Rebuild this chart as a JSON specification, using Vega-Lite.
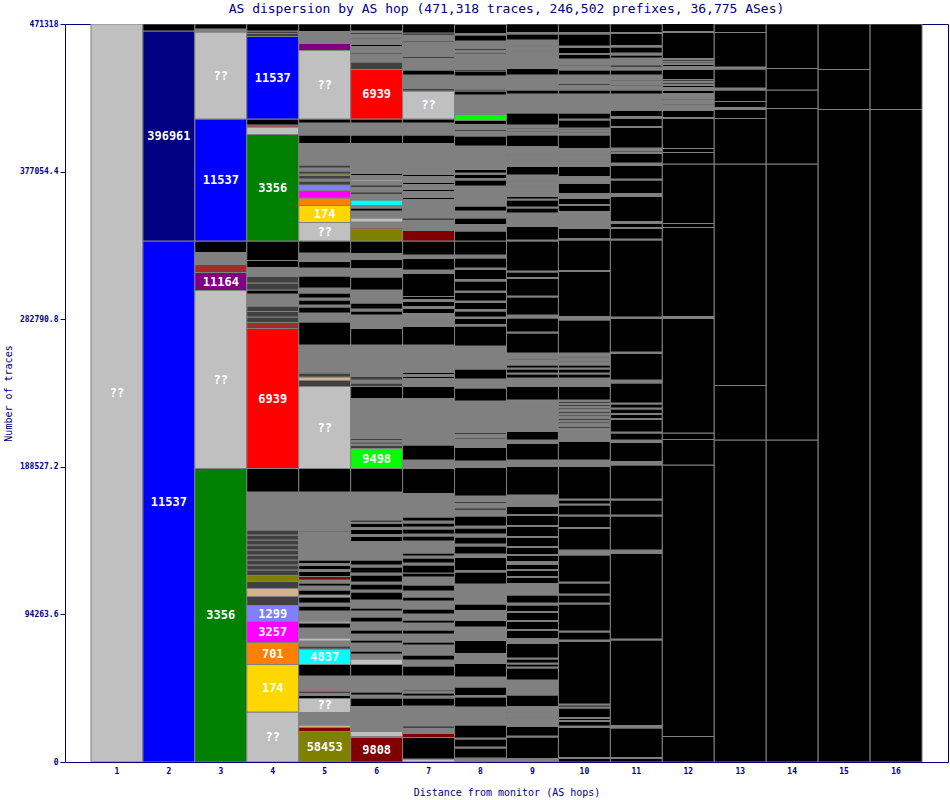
{
  "$schema": "https://vega.github.io/schema/vega-lite/v6.json",
  "width": 883,
  "height": 738,
  "autosize": {"type": "none"},
  "padding": {"left": 65, "top": 24, "right": 2, "bottom": 38},
  "background": "white",
  "config": {"view": {"stroke": "#000080", "strokeWidth": 1}},
  "title": {
    "text": "AS dispersion by AS hop (471,318 traces, 246,502 prefixes, 36,775 ASes)",
    "font": "DejaVu Sans Mono",
    "fontSize": 13,
    "fontWeight": "normal",
    "color": "#000080",
    "anchor": "middle",
    "offset": 4
  },
  "data": {"values": [
    {"h":1,"a":"??","n":471318},

    {"h":2,"a":"11537","n":332731},{"h":2,"a":"396961","n":134114},{"h":2,"a":"rest","n":4473},

    {"h":3,"a":"3356","n":187441},{"h":3,"a":"??","n":113678},{"h":3,"a":"11164","n":11496},{"h":3,"a":"brown","n":5109},{"h":3,"a":"many","n":7664},{"h":3,"a":"rest","n":7344},{"h":3,"a":"11537","n":77914},{"h":3,"a":"??","n":55562},{"h":3,"a":"many","n":1916},{"h":3,"a":"rest","n":3193},

    {"h":4,"a":"??","n":31932},{"h":4,"a":"174","n":30335},{"h":4,"a":"701","n":14050},{"h":4,"a":"3257","n":13411},{"h":4,"a":"1299","n":10218},{"h":4,"a":"dark","n":5748},{"h":4,"a":"tan","n":5109},{"h":4,"a":"dark","n":4470},{"h":4,"a":"58453","n":3832},
    {"h":4,"a":"dark","n":3513},{"h":4,"a":"dark","n":3193},{"h":4,"a":"dark","n":3193},{"h":4,"a":"dark","n":3193},{"h":4,"a":"dark","n":3193},{"h":4,"a":"dark","n":3193},{"h":4,"a":"dark","n":3193},{"h":4,"a":"dark","n":3193},{"h":4,"a":"dark","n":3193},
    {"h":4,"a":"many","n":24268},{"h":4,"a":"rest","n":15008},{"h":4,"a":"6939","n":89410},{"h":4,"a":"brown","n":3832},{"h":4,"a":"dark","n":3513},{"h":4,"a":"dark","n":3513},{"h":4,"a":"dark","n":3513},{"h":4,"a":"many","n":7664},{"h":4,"a":"rest","n":2555},{"h":4,"a":"dark","n":4470},{"h":4,"a":"dark","n":4151},{"h":4,"a":"many","n":5748},{"h":4,"a":"rest","n":4470},{"h":4,"a":"rest","n":12453},
    {"h":4,"a":"3356","n":68015},{"h":4,"a":"??","n":4790},{"h":4,"a":"brown","n":1277},{"h":4,"a":"rest","n":3832},{"h":4,"a":"11537","n":52688},{"h":4,"a":"dark","n":1916},{"h":4,"a":"dark","n":1597},{"h":4,"a":"rest","n":4470},

    {"h":5,"a":"58453","n":19478},{"h":5,"a":"9808","n":2555},{"h":5,"a":"tan","n":1597},{"h":5,"a":"many","n":7983},{"h":5,"a":"??","n":8941},{"h":5,"a":"rest","n":1916},{"h":5,"a":"many","n":1277},{"h":5,"a":"dark","n":1597},{"h":5,"a":"3257","n":639},{"h":5,"a":"many","n":8941},{"h":5,"a":"rest","n":7344},{"h":5,"a":"4837","n":9899},{"h":5,"a":"dark","n":1916},
    {"h":5,"a":"many","n":3193},{"h":5,"a":"??","n":1916},{"h":5,"a":"many","n":6386},{"h":5,"a":"rest","n":3193},{"h":5,"a":"??","n":1277},{"h":5,"a":"many","n":6386},{"h":5,"a":"rest","n":3193},{"h":5,"a":"many","n":1916},{"h":5,"a":"rest","n":3832},{"h":5,"a":"??","n":1277},{"h":5,"a":"rest","n":3193},{"h":5,"a":"many","n":2555},{"h":5,"a":"rest","n":1916},{"h":5,"a":"many","n":1916},
    {"h":5,"a":"9808","n":2235},{"h":5,"a":"rest","n":3193},{"h":5,"a":"many","n":1277},{"h":5,"a":"rest","n":2555},{"h":5,"a":"many","n":1277},{"h":5,"a":"rest","n":2235},{"h":5,"a":"many","n":17882},{"h":5,"a":"rest","n":639},{"h":5,"a":"many","n":24907},{"h":5,"a":"rest","n":15008},
    {"h":5,"a":"??","n":52368},{"h":5,"a":"dark","n":3832},{"h":5,"a":"tan","n":2235},{"h":5,"a":"dark","n":2555},{"h":5,"a":"3356","n":639},{"h":5,"a":"many","n":17243},{"h":5,"a":"rest","n":14689},{"h":5,"a":"many","n":5748},{"h":5,"a":"rest","n":3832},{"h":5,"a":"many","n":1277},{"h":5,"a":"rest","n":3193},{"h":5,"a":"many","n":1277},{"h":5,"a":"rest","n":3193},{"h":5,"a":"many","n":3193},{"h":5,"a":"rest","n":7664},{"h":5,"a":"many","n":5109},{"h":5,"a":"rest","n":4151},{"h":5,"a":"many","n":5428},{"h":5,"a":"rest","n":7664},
    {"h":5,"a":"??","n":11815},{"h":5,"a":"174","n":10857},{"h":5,"a":"701","n":4790},{"h":5,"a":"3257","n":4790},{"h":5,"a":"1299","n":3513},{"h":5,"a":"dark","n":2555},{"h":5,"a":"many","n":1277},{"h":5,"a":"dark","n":2235},{"h":5,"a":"58453","n":958},{"h":5,"a":"dark","n":1916},{"h":5,"a":"many","n":1916},{"h":5,"a":"dark","n":1916},{"h":5,"a":"many","n":13731},{"h":5,"a":"rest","n":5428},{"h":5,"a":"many","n":7664},{"h":5,"a":"rest","n":2555},{"h":5,"a":"??","n":43747},{"h":5,"a":"11164","n":4470},{"h":5,"a":"many","n":7664},{"h":5,"a":"rest","n":4790},

    {"h":6,"a":"9808","n":15647},{"h":6,"a":"many","n":639},{"h":6,"a":"??","n":3193},{"h":6,"a":"many","n":15966},{"h":6,"a":"rest","n":5428},{"h":6,"a":"many","n":1916},{"h":6,"a":"rest","n":1916},{"h":6,"a":"many","n":1277},{"h":6,"a":"many","n":8941},{"h":6,"a":"rest","n":7344},{"h":6,"a":"??","n":3513},
    {"h":6,"a":"many","n":3193},{"h":6,"a":"rest","n":1916},{"h":6,"a":"many","n":5109},{"h":6,"a":"rest","n":1916},{"h":6,"a":"many","n":3832},{"h":6,"a":"rest","n":2555},{"h":6,"a":"many","n":5109},{"h":6,"a":"rest","n":3193},{"h":6,"a":"many","n":3832},{"h":6,"a":"rest","n":1916},{"h":6,"a":"many","n":5109},
    {"h":6,"a":"rest","n":5109},{"h":6,"a":"many","n":1277},{"h":6,"a":"rest","n":3832},{"h":6,"a":"many","n":1277},{"h":6,"a":"rest","n":4470},{"h":6,"a":"many","n":1277},{"h":6,"a":"rest","n":3832},{"h":6,"a":"many","n":1277},{"h":6,"a":"rest","n":3193},
    {"h":6,"a":"many","n":11815},{"h":6,"a":"rest","n":3193},{"h":6,"a":"many","n":1277},{"h":6,"a":"rest","n":3193},{"h":6,"a":"many","n":1277},{"h":6,"a":"rest","n":2555},{"h":6,"a":"many","n":958},{"h":6,"a":"rest","n":1277},{"h":6,"a":"many","n":17882},{"h":6,"a":"rest","n":15008},
    {"h":6,"a":"9498","n":12773},{"h":6,"a":"dark","n":1916},{"h":6,"a":"many","n":958},{"h":6,"a":"dark","n":1277},{"h":6,"a":"many","n":958},{"h":6,"a":"dark","n":1277},{"h":6,"a":"many","n":25546},{"h":6,"a":"rest","n":7664},{"h":6,"a":"dark","n":2235},{"h":6,"a":"many","n":1916},{"h":6,"a":"dark","n":2235},{"h":6,"a":"many","n":20117},{"h":6,"a":"rest","n":10538},{"h":6,"a":"many","n":8622},{"h":6,"a":"rest","n":2555},{"h":6,"a":"many","n":1277},{"h":6,"a":"rest","n":3832},{"h":6,"a":"many","n":8302},{"h":6,"a":"rest","n":8302},{"h":6,"a":"many","n":5428},{"h":6,"a":"rest","n":5748},{"h":6,"a":"many","n":3832},{"h":6,"a":"rest","n":7983},
    {"h":6,"a":"58453","n":7344},{"h":6,"a":"9808","n":958},{"h":6,"a":"many","n":3832},{"h":6,"a":"??","n":2555},{"h":6,"a":"many","n":4470},{"h":6,"a":"rest","n":1916},{"h":6,"a":"many","n":1597},{"h":6,"a":"4837","n":3513},
    {"h":6,"a":"many","n":3832},{"h":6,"a":"rest","n":1277},{"h":6,"a":"many","n":3193},{"h":6,"a":"rest","n":1277},{"h":6,"a":"many","n":2555},{"h":6,"a":"??","n":958},{"h":6,"a":"many","n":2555},{"h":6,"a":"rest","n":1277},{"h":6,"a":"many","n":2235},
    {"h":6,"a":"many","n":16924},{"h":6,"a":"rest","n":5428},{"h":6,"a":"many","n":7664},{"h":6,"a":"rest","n":2555},{"h":6,"a":"6939","n":31613},{"h":6,"a":"dark","n":4790},
    {"h":6,"a":"many","n":5109},{"h":6,"a":"dark","n":958},{"h":6,"a":"many","n":3832},{"h":6,"a":"rest","n":1277},{"h":6,"a":"many","n":3193},{"h":6,"a":"dark","n":958},{"h":6,"a":"many","n":2555},{"h":6,"a":"rest","n":958},{"h":6,"a":"many","n":958},{"h":6,"a":"rest","n":4470},

    {"h":7,"a":"??","n":1916},{"h":7,"a":"rest","n":13731},{"h":7,"a":"9808","n":2555},{"h":7,"a":"many","n":3513},{"h":7,"a":"rest","n":1277},{"h":7,"a":"many","n":12773},
    {"h":7,"a":"rest","n":5109},{"h":7,"a":"many","n":1277},{"h":7,"a":"rest","n":1916},{"h":7,"a":"many","n":958},{"h":7,"a":"rest","n":958},{"h":7,"a":"many","n":8941},{"h":7,"a":"rest","n":6386},
    {"h":7,"a":"many","n":3832},{"h":7,"a":"rest","n":3193},{"h":7,"a":"many","n":6386},{"h":7,"a":"rest","n":1916},{"h":7,"a":"many","n":5109},{"h":7,"a":"rest","n":2555},{"h":7,"a":"many","n":4470},{"h":7,"a":"rest","n":1916},{"h":7,"a":"many","n":3832},{"h":7,"a":"rest","n":3193},{"h":7,"a":"many","n":5109},{"h":7,"a":"rest","n":2555},{"h":7,"a":"many","n":3832},{"h":7,"a":"rest","n":3832},{"h":7,"a":"many","n":5109},{"h":7,"a":"rest","n":2555},
    {"h":7,"a":"rest","n":5109},{"h":7,"a":"many","n":1277},{"h":7,"a":"rest","n":3193},{"h":7,"a":"many","n":1277},{"h":7,"a":"rest","n":1916},{"h":7,"a":"many","n":7664},
    {"h":7,"a":"rest","n":3193},{"h":7,"a":"many","n":1277},{"h":7,"a":"rest","n":3193},{"h":7,"a":"many","n":1277},{"h":7,"a":"rest","n":2555},{"h":7,"a":"many","n":1277},{"h":7,"a":"rest","n":2555},{"h":7,"a":"many","n":1277},{"h":7,"a":"many","n":13731},{"h":7,"a":"rest","n":15966},
    {"h":7,"a":"many","n":5428},{"h":7,"a":"rest","n":9580},{"h":7,"a":"many","n":29697},{"h":7,"a":"rest","n":7664},{"h":7,"a":"many","n":5109},{"h":7,"a":"rest","n":1277},{"h":7,"a":"many","n":1277},{"h":7,"a":"rest","n":1277},{"h":7,"a":"many","n":1597},{"h":7,"a":"many","n":15966},{"h":7,"a":"rest","n":11815},{"h":7,"a":"many","n":8302},{"h":7,"a":"rest","n":3193},{"h":7,"a":"many","n":1277},{"h":7,"a":"rest","n":3193},{"h":7,"a":"many","n":1277},{"h":7,"a":"rest","n":1916},{"h":7,"a":"rest","n":14689},{"h":7,"a":"many","n":2235},{"h":7,"a":"rest","n":7344},{"h":7,"a":"many","n":2235},{"h":7,"a":"rest","n":8941},
    {"h":7,"a":"9808","n":6706},{"h":7,"a":"many","n":6706},{"h":7,"a":"rest","n":1277},{"h":7,"a":"many","n":7344},{"h":7,"a":"??","n":639},
    {"h":7,"a":"many","n":3832},{"h":7,"a":"rest","n":1277},{"h":7,"a":"many","n":3832},{"h":7,"a":"rest","n":1277},{"h":7,"a":"many","n":3193},{"h":7,"a":"rest","n":1277},{"h":7,"a":"many","n":3832},{"h":7,"a":"rest","n":1277},{"h":7,"a":"many","n":1916},
    {"h":7,"a":"many","n":17882},{"h":7,"a":"rest","n":5428},{"h":7,"a":"many","n":7664},{"h":7,"a":"rest","n":2555},{"h":7,"a":"??","n":17882},{"h":7,"a":"dark","n":1597},{"h":7,"a":"many","n":8622},{"h":7,"a":"rest","n":3193},
    {"h":7,"a":"many","n":7664},{"h":7,"a":"rest","n":958},{"h":7,"a":"many","n":5109},{"h":7,"a":"??","n":639},{"h":7,"a":"many","n":3193},{"h":7,"a":"rest","n":958},{"h":7,"a":"many","n":3832},{"h":7,"a":"rest","n":1277},{"h":7,"a":"rest","n":5748},

    {"h":8,"a":"many","n":2555},{"h":8,"a":"rest","n":6386},{"h":8,"a":"many","n":639},{"h":8,"a":"rest","n":5109},{"h":8,"a":"many","n":639},{"h":8,"a":"rest","n":8302},{"h":8,"a":"many","n":11496},{"h":8,"a":"rest","n":6386},{"h":8,"a":"many","n":958},{"h":8,"a":"rest","n":5428},{"h":8,"a":"many","n":6386},
    {"h":8,"a":"rest","n":8622},{"h":8,"a":"many","n":6386},{"h":8,"a":"rest","n":8302},{"h":8,"a":"many","n":8622},{"h":8,"a":"rest","n":4151},{"h":8,"a":"many","n":6386},{"h":8,"a":"rest","n":4151},
    {"h":8,"a":"many","n":12773},{"h":8,"a":"rest","n":7664},{"h":8,"a":"many","n":958},{"h":8,"a":"rest","n":8302},{"h":8,"a":"many","n":2235},
    {"h":8,"a":"rest","n":5109},{"h":8,"a":"many","n":1277},{"h":8,"a":"rest","n":4470},{"h":8,"a":"many","n":1916},{"h":8,"a":"rest","n":3832},{"h":8,"a":"many","n":1277},{"h":8,"a":"rest","n":6386},
    {"h":8,"a":"many","n":3832},{"h":8,"a":"rest","n":1277},{"h":8,"a":"many","n":3193},{"h":8,"a":"rest","n":958},{"h":8,"a":"many","n":3513},
    {"h":8,"a":"rest","n":18201},{"h":8,"a":"many","n":4151},{"h":8,"a":"rest","n":8622},
    {"h":8,"a":"many","n":5109},{"h":8,"a":"rest","n":958},{"h":8,"a":"many","n":2555},{"h":8,"a":"rest","n":958},{"h":8,"a":"many","n":20117},
    {"h":8,"a":"rest","n":8302},{"h":8,"a":"many","n":5748},{"h":8,"a":"rest","n":6386},{"h":8,"a":"many","n":14689},
    {"h":8,"a":"rest","n":12773},{"h":8,"a":"many","n":958},{"h":8,"a":"rest","n":3832},{"h":8,"a":"many","n":958},{"h":8,"a":"rest","n":3832},{"h":8,"a":"many","n":958},{"h":8,"a":"rest","n":4470},{"h":8,"a":"many","n":958},{"h":8,"a":"rest","n":5428},{"h":8,"a":"many","n":958},{"h":8,"a":"rest","n":6386},{"h":8,"a":"many","n":958},{"h":8,"a":"rest","n":6386},{"h":8,"a":"many","n":958},{"h":8,"a":"rest","n":6386},{"h":8,"a":"many","n":1916},{"h":8,"a":"rest","n":8941},
    {"h":8,"a":"rest","n":6386},{"h":8,"a":"many","n":4151},{"h":8,"a":"rest","n":4151},{"h":8,"a":"many","n":4470},{"h":8,"a":"rest","n":3193},{"h":8,"a":"many","n":12773},{"h":8,"a":"rest","n":3832},{"h":8,"a":"many","n":958},{"h":8,"a":"rest","n":2555},{"h":8,"a":"many","n":958},{"h":8,"a":"rest","n":2235},{"h":8,"a":"many","n":15008},{"h":8,"a":"rest","n":6386},{"h":8,"a":"many","n":3193},{"h":8,"a":"rest","n":958},{"h":8,"a":"many","n":3193},{"h":8,"a":"rest","n":2555},{"h":8,"a":"9498","n":3832},{"h":8,"a":"many","n":12453},{"h":8,"a":"rest","n":2555},{"h":8,"a":"dark","n":1277},{"h":8,"a":"many","n":8302},{"h":8,"a":"rest","n":3193},{"h":8,"a":"rest","n":958},{"h":8,"a":"many","n":7664},{"h":8,"a":"many","n":1916},{"h":8,"a":"rest","n":958},{"h":8,"a":"many","n":1916},{"h":8,"a":"rest","n":958},{"h":8,"a":"many","n":1597},{"h":8,"a":"many","n":3193},{"h":8,"a":"rest","n":3832},{"h":8,"a":"many","n":958},{"h":8,"a":"rest","n":5748},

    {"h":9,"a":"many","n":2235},{"h":9,"a":"rest","n":13731},{"h":9,"a":"many","n":639},{"h":9,"a":"rest","n":6067},
    {"h":9,"a":"many","n":5109},{"h":9,"a":"rest","n":639},{"h":9,"a":"many","n":3193},{"h":9,"a":"rest","n":639},{"h":9,"a":"many","n":3193},
    {"h":9,"a":"rest","n":7344},{"h":9,"a":"many","n":9580},
    {"h":9,"a":"rest","n":7664},{"h":9,"a":"many","n":639},{"h":9,"a":"rest","n":1916},{"h":9,"a":"many","n":639},{"h":9,"a":"rest","n":2555},{"h":9,"a":"many","n":639},{"h":9,"a":"rest","n":9260},
    {"h":9,"a":"many","n":3193},
    {"h":9,"a":"rest","n":5109},{"h":9,"a":"many","n":639},{"h":9,"a":"rest","n":5109},{"h":9,"a":"many","n":639},{"h":9,"a":"rest","n":5109},{"h":9,"a":"many","n":639},{"h":9,"a":"rest","n":4151},
    {"h":9,"a":"many","n":1277},{"h":9,"a":"rest","n":5109},{"h":9,"a":"many","n":7344},
    {"h":9,"a":"rest","n":3832},{"h":9,"a":"many","n":639},{"h":9,"a":"rest","n":3832},{"h":9,"a":"many","n":639},{"h":9,"a":"rest","n":3193},{"h":9,"a":"many","n":1916},{"h":9,"a":"rest","n":3832},{"h":9,"a":"many","n":639},{"h":9,"a":"rest","n":4470},{"h":9,"a":"many","n":639},{"h":9,"a":"rest","n":5748},{"h":9,"a":"many","n":639},{"h":9,"a":"rest","n":6386},{"h":9,"a":"many","n":639},{"h":9,"a":"rest","n":6386},{"h":9,"a":"many","n":639},{"h":9,"a":"rest","n":5109},
    {"h":9,"a":"many","n":2555},{"h":9,"a":"rest","n":639},{"h":9,"a":"many","n":4151},
    {"h":9,"a":"rest","n":18201},{"h":9,"a":"many","n":4151},{"h":9,"a":"rest","n":10538},{"h":9,"a":"many","n":2235},{"h":9,"a":"rest","n":5428},
    {"h":9,"a":"many","n":15327},{"h":9,"a":"rest","n":639},{"h":9,"a":"many","n":4151},
    {"h":9,"a":"rest","n":8622},{"h":9,"a":"many","n":5428},{"h":9,"a":"rest","n":2555},{"h":9,"a":"many","n":639},{"h":9,"a":"rest","n":2555},{"h":9,"a":"many","n":639},{"h":9,"a":"rest","n":1916},{"h":9,"a":"many","n":3193},{"h":9,"a":"rest","n":639},{"h":9,"a":"many","n":3832},{"h":9,"a":"rest","n":12773},{"h":9,"a":"many","n":639},{"h":9,"a":"rest","n":8941},{"h":9,"a":"many","n":1916},{"h":9,"a":"rest","n":11496},{"h":9,"a":"many","n":639},{"h":9,"a":"rest","n":11176},{"h":9,"a":"many","n":639},{"h":9,"a":"rest","n":3513},{"h":9,"a":"many","n":639},{"h":9,"a":"rest","n":19159},{"h":9,"a":"many","n":639},{"h":9,"a":"rest","n":8622},
    {"h":9,"a":"many","n":2555},{"h":9,"a":"rest","n":639},{"h":9,"a":"many","n":1916},{"h":9,"a":"rest","n":639},{"h":9,"a":"many","n":2874},{"h":9,"a":"rest","n":3193},{"h":9,"a":"many","n":639},{"h":9,"a":"rest","n":4470},{"h":9,"a":"many","n":639},{"h":9,"a":"rest","n":1597},{"h":9,"a":"many","n":2555},{"h":9,"a":"rest","n":639},{"h":9,"a":"many","n":2555},{"h":9,"a":"rest","n":639},{"h":9,"a":"many","n":3193},{"h":9,"a":"rest","n":639},{"h":9,"a":"many","n":3513},{"h":9,"a":"rest","n":5428},{"h":9,"a":"many","n":3832},{"h":9,"a":"rest","n":639},{"h":9,"a":"many","n":2555},{"h":9,"a":"rest","n":639},{"h":9,"a":"many","n":5109},{"h":9,"a":"rest","n":7344},{"h":9,"a":"many","n":1916},{"h":9,"a":"rest","n":639},{"h":9,"a":"many","n":1277},{"h":9,"a":"rest","n":639},{"h":9,"a":"many","n":1916},{"h":9,"a":"rest","n":7664},{"h":9,"a":"many","n":12134},{"h":9,"a":"rest","n":2555},{"h":9,"a":"many","n":9580},{"h":9,"a":"rest","n":4151},{"h":9,"a":"many","n":7664},{"h":9,"a":"many","n":3193},{"h":9,"a":"rest","n":639},{"h":9,"a":"many","n":2555},{"h":9,"a":"rest","n":639},{"h":9,"a":"many","n":3513},{"h":9,"a":"rest","n":3832},{"h":9,"a":"many","n":958},{"h":9,"a":"rest","n":5428},

    {"h":10,"a":"rest","n":2235},{"h":10,"a":"many","n":639},{"h":10,"a":"rest","n":19159},{"h":10,"a":"many","n":958},{"h":10,"a":"rest","n":2874},{"h":10,"a":"many","n":639},{"h":10,"a":"rest","n":1277},{"h":10,"a":"many","n":639},{"h":10,"a":"rest","n":6067},{"h":10,"a":"many","n":639},{"h":10,"a":"rest","n":1277},{"h":10,"a":"many","n":639},{"h":10,"a":"rest","n":39915},{"h":10,"a":"many","n":958},{"h":10,"a":"rest","n":5109},{"h":10,"a":"many","n":639},{"h":10,"a":"rest","n":17243},{"h":10,"a":"many","n":639},{"h":10,"a":"rest","n":5109},{"h":10,"a":"many","n":639},{"h":10,"a":"rest","n":7025},{"h":10,"a":"many","n":639},{"h":10,"a":"rest","n":17243},{"h":10,"a":"many","n":3193},{"h":10,"a":"rest","n":13731},{"h":10,"a":"many","n":639},{"h":10,"a":"rest","n":7344},{"h":10,"a":"many","n":639},{"h":10,"a":"rest","n":6386},{"h":10,"a":"many","n":639},{"h":10,"a":"rest","n":2555},{"h":10,"a":"many","n":639},{"h":10,"a":"rest","n":20756},{"h":10,"a":"many","n":4151},{"h":10,"a":"rest","n":11815},{"h":10,"a":"many","n":7344},
    {"h":10,"a":"many","n":1277},{"h":10,"a":"rest","n":958},{"h":10,"a":"many","n":1916},{"h":10,"a":"rest","n":958},{"h":10,"a":"many","n":1277},{"h":10,"a":"rest","n":958},{"h":10,"a":"many","n":1277},{"h":10,"a":"rest","n":958},{"h":10,"a":"many","n":1277},{"h":10,"a":"rest","n":958},{"h":10,"a":"many","n":1277},{"h":10,"a":"rest","n":958},{"h":10,"a":"many","n":1277},{"h":10,"a":"rest","n":958},{"h":10,"a":"many","n":958},{"h":10,"a":"rest","n":958},{"h":10,"a":"many","n":958},
    {"h":10,"a":"rest","n":8622},{"h":10,"a":"many","n":5428},{"h":10,"a":"rest","n":2555},{"h":10,"a":"many","n":639},{"h":10,"a":"rest","n":2555},{"h":10,"a":"many","n":639},{"h":10,"a":"rest","n":1916},{"h":10,"a":"many","n":1916},{"h":10,"a":"rest","n":639},{"h":10,"a":"many","n":1916},{"h":10,"a":"rest","n":639},{"h":10,"a":"many","n":2555},{"h":10,"a":"rest","n":21075},{"h":10,"a":"many","n":2235},{"h":10,"a":"rest","n":28739},{"h":10,"a":"many","n":639},{"h":10,"a":"rest","n":19478},{"h":10,"a":"many","n":958},{"h":10,"a":"rest","n":6386},{"h":10,"a":"many","n":2555},{"h":10,"a":"rest","n":639},{"h":10,"a":"many","n":1916},{"h":10,"a":"rest","n":639},{"h":10,"a":"many","n":1916},{"h":10,"a":"rest","n":639},{"h":10,"a":"many","n":2555},{"h":10,"a":"rest","n":3832},{"h":10,"a":"many","n":639},{"h":10,"a":"rest","n":3832},{"h":10,"a":"many","n":3193},{"h":10,"a":"rest","n":6386},{"h":10,"a":"many","n":4470},{"h":10,"a":"rest","n":6386},{"h":10,"a":"many","n":3193},{"h":10,"a":"rest","n":639},{"h":10,"a":"many","n":3193},{"h":10,"a":"rest","n":639},{"h":10,"a":"many","n":3832},{"h":10,"a":"rest","n":8622},{"h":10,"a":"many","n":1277},{"h":10,"a":"rest","n":639},{"h":10,"a":"many","n":1277},{"h":10,"a":"rest","n":639},{"h":10,"a":"many","n":639},{"h":10,"a":"rest","n":5109},{"h":10,"a":"many","n":639},{"h":10,"a":"rest","n":3832},{"h":10,"a":"many","n":12134},{"h":10,"a":"rest","n":2555},{"h":10,"a":"many","n":3193},{"h":10,"a":"rest","n":958},{"h":10,"a":"many","n":5428},{"h":10,"a":"rest","n":3193},{"h":10,"a":"many","n":2555},{"h":10,"a":"rest","n":639},{"h":10,"a":"many","n":3832},{"h":10,"a":"rest","n":2874},{"h":10,"a":"many","n":639},{"h":10,"a":"rest","n":3832},{"h":10,"a":"many","n":958},{"h":10,"a":"rest","n":7664},{"h":10,"a":"many","n":958},{"h":10,"a":"rest","n":5428},

    {"h":11,"a":"rest","n":2235},{"h":11,"a":"many","n":639},{"h":11,"a":"rest","n":18840},{"h":11,"a":"many","n":1597},{"h":11,"a":"rest","n":54604},{"h":11,"a":"many","n":639},{"h":11,"a":"rest","n":54604},{"h":11,"a":"many","n":2235},{"h":11,"a":"rest","n":21714},{"h":11,"a":"many","n":639},{"h":11,"a":"rest","n":9580},{"h":11,"a":"many","n":639},{"h":11,"a":"rest","n":21714},{"h":11,"a":"many","n":2235},{"h":11,"a":"rest","n":12134},{"h":11,"a":"many","n":1597},{"h":11,"a":"rest","n":4470},{"h":11,"a":"many","n":639},{"h":11,"a":"rest","n":7983},{"h":11,"a":"many","n":639},{"h":11,"a":"rest","n":2555},{"h":11,"a":"many","n":639},{"h":11,"a":"rest","n":2874},{"h":11,"a":"many","n":639},{"h":11,"a":"rest","n":2555},{"h":11,"a":"many","n":639},{"h":11,"a":"rest","n":12773},{"h":11,"a":"many","n":1916},{"h":11,"a":"rest","n":16924},{"h":11,"a":"many","n":958},{"h":11,"a":"rest","n":21394},{"h":11,"a":"many","n":958},{"h":11,"a":"rest","n":49175},{"h":11,"a":"many","n":639},{"h":11,"a":"rest","n":6706},{"h":11,"a":"many","n":639},{"h":11,"a":"rest","n":2555},{"h":11,"a":"many","n":1277},{"h":11,"a":"rest","n":15966},{"h":11,"a":"many","n":1916},{"h":11,"a":"rest","n":8622},{"h":11,"a":"many","n":639},{"h":11,"a":"rest","n":8622},{"h":11,"a":"many","n":1597},{"h":11,"a":"rest","n":6067},{"h":11,"a":"many","n":639},{"h":11,"a":"rest","n":958},{"h":11,"a":"many","n":1916},{"h":11,"a":"rest","n":13092},{"h":11,"a":"many","n":639},{"h":11,"a":"rest","n":5109},{"h":11,"a":"many","n":1277},{"h":11,"a":"rest","n":3832},{"h":11,"a":"many","n":10538},
    {"h":11,"a":"rest","n":2555},{"h":11,"a":"many","n":2555},{"h":11,"a":"rest","n":639},{"h":11,"a":"many","n":2555},{"h":11,"a":"rest","n":639},{"h":11,"a":"many","n":3193},{"h":11,"a":"rest","n":3193},{"h":11,"a":"many","n":1916},{"h":11,"a":"rest","n":1277},{"h":11,"a":"many","n":4470},{"h":11,"a":"rest","n":1916},{"h":11,"a":"many","n":1277},{"h":11,"a":"rest","n":3832},{"h":11,"a":"many","n":958},{"h":11,"a":"rest","n":7664},{"h":11,"a":"many","n":639},{"h":11,"a":"rest","n":5428},

    {"h":12,"a":"rest","n":16285},{"h":12,"a":"rest","n":173391},{"h":12,"a":"rest","n":16285},{"h":12,"a":"rest","n":4151},{"h":12,"a":"rest","n":73124},{"h":12,"a":"many","n":1277},{"h":12,"a":"rest","n":56839},{"h":12,"a":"rest","n":2555},{"h":12,"a":"rest","n":37999},{"h":12,"a":"rest","n":7344},{"h":12,"a":"rest","n":2555},{"h":12,"a":"rest","n":19159},{"h":12,"a":"many","n":639},{"h":12,"a":"rest","n":4470},{"h":12,"a":"many","n":3513},{"h":12,"a":"rest","n":639},{"h":12,"a":"many","n":2555},{"h":12,"a":"rest","n":639},{"h":12,"a":"many","n":3513},{"h":12,"a":"rest","n":1916},{"h":12,"a":"many","n":1916},{"h":12,"a":"rest","n":1277},{"h":12,"a":"many","n":958},{"h":12,"a":"rest","n":958},{"h":12,"a":"many","n":958},{"h":12,"a":"rest","n":958},{"h":12,"a":"rest","n":6386},{"h":12,"a":"many","n":1916},{"h":12,"a":"rest","n":1277},{"h":12,"a":"many","n":639},{"h":12,"a":"rest","n":958},{"h":12,"a":"many","n":639},{"h":12,"a":"rest","n":958},{"h":12,"a":"many","n":639},{"h":12,"a":"rest","n":16605},{"h":12,"a":"many","n":639},{"h":12,"a":"rest","n":5109},

    {"h":13,"a":"rest","n":205642},{"h":13,"a":"rest","n":34806},{"h":13,"a":"rest","n":141459},{"h":13,"a":"rest","n":29058},{"h":13,"a":"rest","n":5748},{"h":13,"a":"many","n":1277},{"h":13,"a":"rest","n":3832},{"h":13,"a":"rest","n":7344},{"h":13,"a":"many","n":1277},{"h":13,"a":"rest","n":12134},{"h":13,"a":"many","n":1277},{"h":13,"a":"rest","n":22033},{"h":13,"a":"rest","n":5428},

    {"h":14,"a":"rest","n":205642},{"h":14,"a":"rest","n":176265},{"h":14,"a":"rest","n":35445},{"h":14,"a":"rest","n":11815},{"h":14,"a":"rest","n":13731},{"h":14,"a":"rest","n":28419},

    {"h":15,"a":"rest","n":416713},{"h":15,"a":"rest","n":25546},{"h":15,"a":"rest","n":29058},

    {"h":16,"a":"rest","n":416713},{"h":16,"a":"rest","n":54604}
  ]},
  "transform": [
    {"stack": "n", "groupby": ["h"], "as": ["y0", "y1"]}
  ],
  "encoding": {
    "x": {
      "field": "h",
      "type": "ordinal",
      "scale": {"paddingInner": 0, "paddingOuter": 0.5},
      "axis": {
        "title": "Distance from monitor (AS hops)",
        "labelAngle": 0,
        "ticks": false,
        "domainColor": "#000080",
        "labelColor": "#000080",
        "titleColor": "#000080",
        "labelFont": "DejaVu Sans Mono",
        "labelFontSize": 8,
        "labelFontWeight": "bold",
        "labelPadding": 5,
        "titleFont": "DejaVu Sans Mono",
        "titleFontSize": 10,
        "titleFontWeight": "normal",
        "titlePadding": 12
      }
    }
  },
  "layer": [
    {
      "mark": {"type": "bar", "stroke": "#808080", "strokeWidth": 1, "clip": true},
      "encoding": {
        "y": {
          "field": "y0",
          "type": "quantitative",
          "scale": {"domain": [0, 471318], "nice": false},
          "axis": {
            "title": "Number of traces",
            "values": [0, 94263.6, 188527.2, 282790.8, 377054.4, 471318],
            "format": ".1~f",
            "grid": false,
            "domainColor": "#000080",
            "tickColor": "#000080",
            "tickSize": 5,
            "labelColor": "#000080",
            "titleColor": "#000080",
            "labelFont": "DejaVu Sans Mono",
            "labelFontSize": 8,
            "labelFontWeight": "bold",
            "labelPadding": 2,
            "titleFont": "DejaVu Sans Mono",
            "titleFontSize": 10,
            "titleFontWeight": "normal",
            "titlePadding": 6
          }
        },
        "y2": {"field": "y1"},
        "color": {
          "field": "a",
          "type": "nominal",
          "legend": null,
          "scale": {
            "domain": ["??", "11537", "396961", "3356", "6939", "11164", "174", "701", "3257", "1299", "4837", "58453", "9808", "9498", "brown", "tan", "dark", "many", "rest"],
            "range": ["#c0c0c0", "#0000ff", "#000080", "#008000", "#ff0000", "#800080", "#ffd700", "#ff8000", "#ff00ff", "#8080ff", "#00ffff", "#808000", "#800000", "#00ff00", "#a52a2a", "#d2b48c", "#404040", "#808080", "#000000"]
          }
        }
      }
    },
    {
      "transform": [
        {"filter": "indexof(['rest','many','dark','brown','tan'], datum.a) < 0 && datum.n > 8000"},
        {"calculate": "(datum.y0 + datum.y1) / 2", "as": "m"}
      ],
      "mark": {"type": "text", "color": "white", "font": "DejaVu Sans Mono", "fontSize": 12, "fontWeight": "bold", "baseline": "middle"},
      "encoding": {
        "y": {"field": "m", "type": "quantitative"},
        "text": {"field": "a"}
      }
    }
  ]
}
